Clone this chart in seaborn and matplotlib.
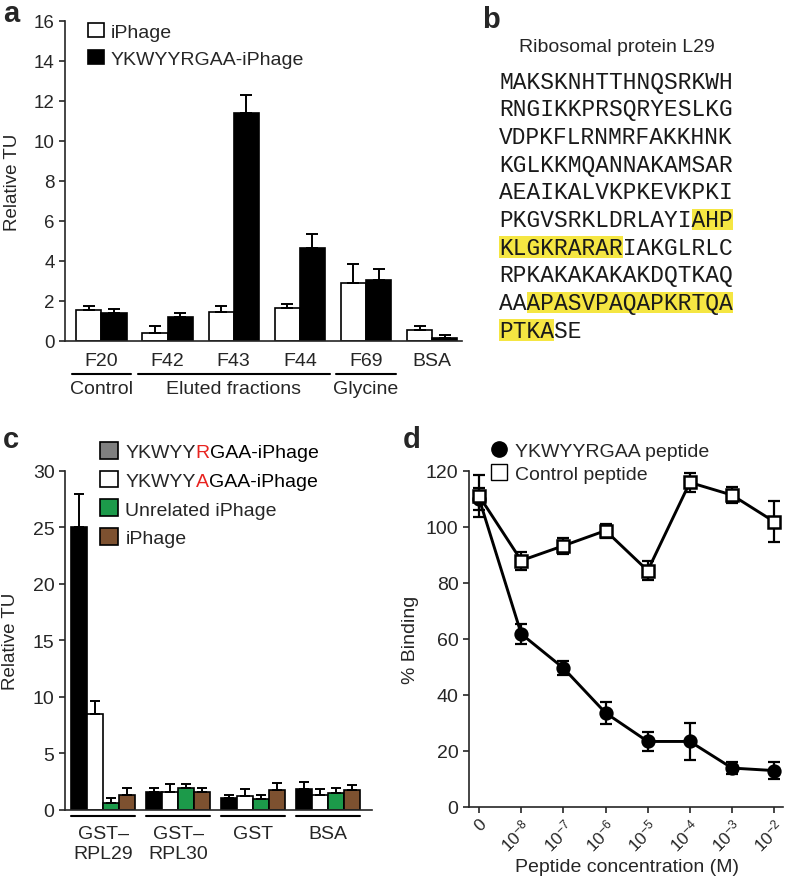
import numpy as np
import pandas as pd
import matplotlib
matplotlib.use('Agg')
import matplotlib.pyplot as plt
import matplotlib.transforms as mtransforms
from matplotlib.lines import Line2D
import seaborn as sns

# ---- panel a: relative TU per fraction
a_fractions = ['F20', 'F42', 'F43', 'F44', 'F69', 'BSA']
a_series = ['iPhage', 'YKWYYRGAA-iPhage']
a_iphage = [1.55, 0.42, 1.45, 1.67, 2.92, 0.57]
a_iphage_err = [0.22, 0.33, 0.32, 0.16, 0.95, 0.20]
a_peptide = [1.38, 1.20, 11.40, 4.65, 3.05, 0.15]
a_peptide_err = [0.24, 0.22, 0.90, 0.72, 0.53, 0.13]
a_groups = [('Control', 'F20', 'F20'), ('Eluted fractions', 'F42', 'F44'),
            ('Glycine', 'F69', 'F69')]

# ---- panel b: RPL29 sequence with bound peptides
b_title = 'Ribosomal protein L29'
b_sequence = ('MAKSKNHTTHNQSRKWHRNGIKKPRSQRYESLKGVDPKFLRNMRFAKKHNKKGLKKMQANNAKAMSAR'
              'AEAIKALVKPKEVKPKIPKGVSRKLDRLAYIAHPKLGKRARARIAKGLRLCRPKAKAKAKAKDQTKAQ'
              'AAAPASVPAQAPKRTQAPTKASE')
b_peptides = ['AHPKLGKRARAR', 'APASVPAQAPKRTQAPTKA']
b_line_len = 17

# ---- panel c: binding to GST fusions
c_targets = ['GST–\nRPL29', 'GST–\nRPL30', 'GST', 'BSA']
c_series = ['YKWYYRGAA-iPhage', 'YKWYYAGAA-iPhage', 'Unrelated iPhage', 'iPhage']
c_rgaa = [25.0, 1.54, 1.00, 1.80]
c_rgaa_err = [2.9, 0.36, 0.30, 0.65]
c_agaa = [8.47, 1.54, 1.20, 1.26]
c_agaa_err = [1.18, 0.73, 0.60, 0.55]
c_unrel = [0.57, 1.90, 0.92, 1.50]
c_unrel_err = [0.45, 0.40, 0.40, 0.45]
c_iphage = [1.33, 1.54, 1.70, 1.74]
c_iphage_err = [0.57, 0.36, 0.67, 0.46]

# ---- panel d: competition with peptide
d_conc = ['0', '$10^{-8}$', '$10^{-7}$', '$10^{-6}$', '$10^{-5}$',
          '$10^{-4}$', '$10^{-3}$', '$10^{-2}$']
d_series = ['YKWYYRGAA peptide', 'Control peptide']
d_peptide = [110.0, 61.7, 49.5, 33.5, 23.3, 23.3, 13.8, 12.9]
d_peptide_err = [4.0, 3.7, 2.5, 3.8, 3.3, 6.5, 2.0, 3.0]
d_control = [111.0, 87.9, 93.2, 98.6, 84.3, 115.8, 111.3, 101.8]
d_control_err = [7.5, 3.2, 2.8, 2.5, 3.5, 3.5, 3.0, 7.3]

W, H = 788, 887
sns.set_theme(style='ticks')
plt.rcParams['font.family'] = ['Liberation Sans', 'DejaVu Sans']
plt.rcParams['mathtext.default'] = 'regular'
plt.rcParams['axes.linewidth'] = 1.2
plt.rcParams['xtick.major.width'] = 1.2
plt.rcParams['ytick.major.width'] = 1.2
plt.rcParams['xtick.major.size'] = 4
plt.rcParams['ytick.major.size'] = 4

fig = plt.figure(figsize=(W / 100, H / 100), dpi=100)


def px_axes(left, top, right, bottom):
    return fig.add_axes([left / W, 1 - bottom / H, (right - left) / W, (bottom - top) / H])


def add_errbars(ax, df, cat_col, hue_col, order, hue_order, capsize, lw):
    for cont, level in zip(ax.containers, hue_order):
        sub = df[df[hue_col] == level].set_index(cat_col)
        for bar, cat in zip(cont, order):
            x = bar.get_x() + bar.get_width() / 2
            ax.errorbar(x, bar.get_height(), yerr=[[0], [sub.loc[cat, 'err']]],
                        color='black', capsize=capsize, elinewidth=lw, capthick=lw,
                        zorder=1)


def group_line(ax, x0, x1, y, label=None, label_y=None):
    trans = mtransforms.blended_transform_factory(ax.transData, ax.transAxes)
    ax.plot([x0, x1], [y, y], color='black', lw=1.5, transform=trans, clip_on=False)
    if label:
        ax.text((x0 + x1) / 2, label_y, label, transform=trans, ha='center',
                va='center', fontsize=14)


# ======== panel a
ax_a = px_axes(65, 22, 462, 342)
df_a = pd.DataFrame({
    'fraction': a_fractions * 2,
    'phage': [a_series[0]] * len(a_fractions) + [a_series[1]] * len(a_fractions),
    'tu': a_iphage + a_peptide,
    'err': a_iphage_err + a_peptide_err,
})
sns.barplot(data=df_a, x='fraction', y='tu', hue='phage', order=a_fractions,
            hue_order=a_series, palette=['white', 'black'], saturation=1,
            width=0.76, edgecolor='black', linewidth=1.2, errorbar=None, ax=ax_a)
add_errbars(ax_a, df_a, 'fraction', 'phage', a_fractions, a_series, 4, 1.4)
ax_a.set_xlim(-0.55, 5.45)
ax_a.set_ylim(0, 16)
ax_a.set_yticks(range(0, 17, 2))
ax_a.tick_params(axis='y', labelsize=13.5)
ax_a.tick_params(axis='x', length=0, pad=8, labelsize=14)
ax_a.set_xlabel('')
ax_a.set_ylabel('Relative TU', fontsize=13.5)
ax_a.yaxis.set_label_coords(-0.112, 0.5)
sns.despine(ax=ax_a)
for name, first, last in a_groups:
    group_line(ax_a, a_fractions.index(first) - 0.45, a_fractions.index(last) + 0.45,
               -0.103, name, -0.15)
sns.move_legend(ax_a, 'upper left', bbox_to_anchor=(0.058, 0.995), frameon=False,
                title=None, fontsize=14, handlelength=0.8, handleheight=0.8,
                handletextpad=0.35, labelspacing=0.45, borderpad=0, borderaxespad=0)

# ======== panel b
fs_seq = 16.5
char_px = 0.6 * fs_seq / 72 * 100
line_px = 27.67
lines = [b_sequence[i:i + b_line_len] for i in range(0, len(b_sequence), b_line_len)]
ax_b = px_axes(499.3, 82 - line_px / 2, 499.3 + char_px * b_line_len,
               82 + line_px * (len(lines) - 0.5))
ax_b.set_xlim(0, b_line_len)
ax_b.set_ylim(len(lines) - 0.5, -0.5)
ax_b.axis('off')
seg_rows, seg_left, seg_width = [], [], []
for pep in b_peptides:
    start = b_sequence.find(pep)
    end = start + len(pep)
    pos = start
    while pos < end:
        row = pos // b_line_len
        stop = min(end, (row + 1) * b_line_len)
        seg_rows.append(row)
        seg_left.append(pos - row * b_line_len)
        seg_width.append(stop - pos)
        pos = stop
ax_b.barh(seg_rows, seg_width, left=seg_left, height=0.78, color='#f5e642', lw=0)
for i, line in enumerate(lines):
    ax_b.text(0, i + 0.24, line, family='Liberation Mono', fontsize=fs_seq,
              ha='left', va='baseline', color='#1a1a1a')
fig.text(617 / W, 1 - 47 / H, b_title, ha='center', va='center', fontsize=14)

# ======== panel c
ax_c = px_axes(65, 471.7, 372, 810.7)
df_c = pd.DataFrame({
    'target': c_targets * 4,
    'phage': sum([[s] * len(c_targets) for s in c_series], []),
    'tu': c_rgaa + c_agaa + c_unrel + c_iphage,
    'err': c_rgaa_err + c_agaa_err + c_unrel_err + c_iphage_err,
})
c_colors = ['black', 'white', '#1c9a4a', '#7d5130']
sns.barplot(data=df_c, x='target', y='tu', hue='phage', order=c_targets,
            hue_order=c_series, palette=c_colors, saturation=1, width=0.85,
            edgecolor='black', linewidth=1.2, errorbar=None, legend=False, ax=ax_c)
add_errbars(ax_c, df_c, 'target', 'phage', c_targets, c_series, 3.5, 1.4)
ax_c.set_xlim(-0.51, 3.59)
ax_c.set_ylim(0, 30)
ax_c.set_yticks(range(0, 31, 5))
ax_c.tick_params(axis='y', labelsize=14)
ax_c.tick_params(axis='x', length=0, pad=11, labelsize=14)
ax_c.set_xlabel('')
ax_c.set_ylabel('Relative TU', fontsize=13.5)
ax_c.yaxis.set_label_coords(-0.15, 0.5)
sns.despine(ax=ax_c)
for i in range(len(c_targets)):
    group_line(ax_c, i - 0.43, i + 0.43, -0.018)
legend_colors = ['#808080'] + c_colors[1:]
c_handles = [plt.Rectangle((0, 0), 1, 1, facecolor=c, edgecolor='black', lw=1.2)
             for c in legend_colors]
c_labels = ['YKWYY', 'YKWYY'] + c_series[2:]
leg_c = ax_c.legend(c_handles, c_labels, loc='upper left', bbox_to_anchor=(0.114, 1.085),
                    frameon=False, fontsize=14, handlelength=0.95, handleheight=0.95,
                    handletextpad=0.35, labelspacing=0.5, borderpad=0, borderaxespad=0)

# ======== panel d
ax_d = px_axes(469, 471.7, 783, 807.7)
df_d = pd.DataFrame({
    'pos': list(range(len(d_conc))) * 2,
    'peptide': [d_series[0]] * len(d_conc) + [d_series[1]] * len(d_conc),
    'binding': d_peptide + d_control,
    'err': d_peptide_err + d_control_err,
})
for name, marker, face in [(d_series[0], 'o', 'black'), (d_series[1], 's', 'white')]:
    sub = df_d[df_d['peptide'] == name]
    ax_d.errorbar(sub['pos'], sub['binding'], yerr=sub['err'], fmt='none',
                  ecolor='black', elinewidth=1.6, capsize=4.3, capthick=1.6, zorder=2)
    sns.lineplot(data=sub, x='pos', y='binding', color='black', lw=2.1,
                 marker=marker, markersize=8.5, markerfacecolor=face,
                 markeredgecolor='black', markeredgewidth=1.8, ax=ax_d, zorder=3)
ax_d.set_xlim(-0.24, 7.21)
ax_d.set_ylim(0, 120)
ax_d.set_yticks(range(0, 121, 20))
ax_d.set_xticks(range(len(d_conc)))
ax_d.set_xticklabels(d_conc, rotation=45, ha='right', va='top', rotation_mode='anchor')
ax_d.tick_params(axis='y', labelsize=14)
ax_d.tick_params(axis='x', labelsize=12.5, pad=2.5)
ax_d.set_ylabel('% Binding', fontsize=14)
ax_d.yaxis.set_label_coords(-0.159, 0.5)
ax_d.set_xlabel('Peptide concentration (M)', fontsize=14)
ax_d.xaxis.set_label_coords(0.503, -0.152)
sns.despine(ax=ax_d)
d_handles = [Line2D([], [], ls='none', marker='o', ms=11, mfc='black', mec='black'),
             Line2D([], [], ls='none', marker='s', ms=11, mfc='white', mec='black', mew=1)]
ax_d.legend(d_handles, d_series, loc='upper left', bbox_to_anchor=(0.07, 1.085),
            frameon=False, fontsize=14, handlelength=0.8, handletextpad=0.45,
            labelspacing=0.3, borderpad=0, borderaxespad=0)

# panel letters
for letter, x, y in [('a', 3, 22), ('b', 482, 28), ('c', 3, 448), ('d', 403, 448)]:
    fig.text(x / W, 1 - y / H, letter, fontsize=21, weight='bold', va='baseline')

# red mutated residue in the panel c legend labels
fig.canvas.draw()
renderer = fig.canvas.get_renderer()
to_fig = fig.transFigure.inverted()
for txt, mut in zip(leg_c.get_texts()[:2], ['R', 'A']):
    bb = txt.get_window_extent(renderer)
    x0, y0 = to_fig.transform((bb.x1, bb.y0))
    red = fig.text(x0, y0, mut, fontsize=14, color='#e8231f', ha='left', va='bottom')
    bb2 = red.get_window_extent(renderer)
    x1, _ = to_fig.transform((bb2.x1, bb2.y0))
    fig.text(x1, y0, 'GAA-iPhage', fontsize=14, color='black', ha='left', va='bottom')

fig.savefig('out.png', dpi=100)
